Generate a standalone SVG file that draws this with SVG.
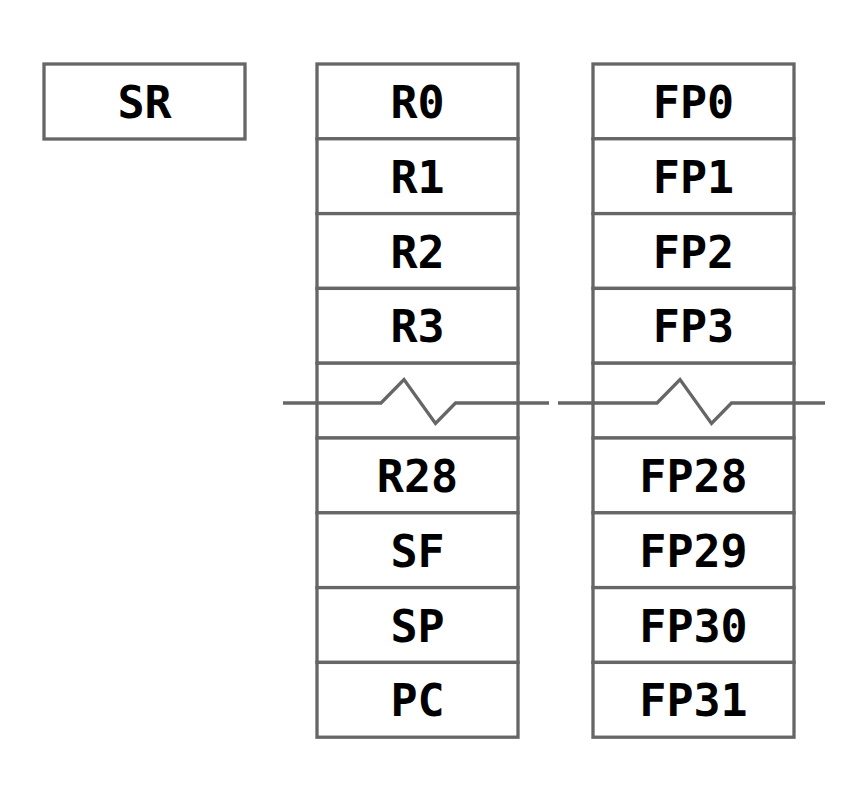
<svg xmlns="http://www.w3.org/2000/svg" width="864" height="792" viewBox="0 0 864 792">
<style>
.c{fill:#fff;stroke:#666;stroke-width:3.3}
.t{font-family:"DejaVu Sans Mono","Liberation Mono",monospace;font-weight:bold;font-size:45px;fill:#000;text-anchor:middle}
.b{fill:none;stroke:#666;stroke-width:3.3}
</style>
<rect width="864" height="792" fill="#fff"/>
<g id="SR"><rect class="c" x="44" y="64" width="201" height="75"/><text class="t" x="144.5" y="118">SR</text></g>
<g id="regs">
<g id="R0"><rect class="c" x="317" y="64" width="201" height="74.8"/><text class="t" x="417.5" y="118">R0</text></g>
<g id="R1"><rect class="c" x="317" y="138.8" width="201" height="74.8"/><text class="t" x="417.5" y="192.8">R1</text></g>
<g id="R2"><rect class="c" x="317" y="213.6" width="201" height="74.8"/><text class="t" x="417.5" y="267.6">R2</text></g>
<g id="R3"><rect class="c" x="317" y="288.4" width="201" height="74.8"/><text class="t" x="417.5" y="342.4">R3</text></g>
<g id="Rgap"><rect class="c" x="317" y="363.2" width="201" height="74.8"/></g>
<g id="R28"><rect class="c" x="317" y="438" width="201" height="74.8"/><text class="t" x="417.5" y="492">R28</text></g>
<g id="SF"><rect class="c" x="317" y="512.8" width="201" height="74.8"/><text class="t" x="417.5" y="566.8">SF</text></g>
<g id="SP"><rect class="c" x="317" y="587.6" width="201" height="74.8"/><text class="t" x="417.5" y="641.6">SP</text></g>
<g id="PC"><rect class="c" x="317" y="662.4" width="201" height="74.8"/><text class="t" x="417.5" y="716.4">PC</text></g>
</g>
<g id="fpregs">
<g id="FP0"><rect class="c" x="593" y="64" width="201" height="74.8"/><text class="t" x="693.5" y="118">FP0</text></g>
<g id="FP1"><rect class="c" x="593" y="138.8" width="201" height="74.8"/><text class="t" x="693.5" y="192.8">FP1</text></g>
<g id="FP2"><rect class="c" x="593" y="213.6" width="201" height="74.8"/><text class="t" x="693.5" y="267.6">FP2</text></g>
<g id="FP3"><rect class="c" x="593" y="288.4" width="201" height="74.8"/><text class="t" x="693.5" y="342.4">FP3</text></g>
<g id="FPgap"><rect class="c" x="593" y="363.2" width="201" height="74.8"/></g>
<g id="FP28"><rect class="c" x="593" y="438" width="201" height="74.8"/><text class="t" x="693.5" y="492">FP28</text></g>
<g id="FP29"><rect class="c" x="593" y="512.8" width="201" height="74.8"/><text class="t" x="693.5" y="566.8">FP29</text></g>
<g id="FP30"><rect class="c" x="593" y="587.6" width="201" height="74.8"/><text class="t" x="693.5" y="641.6">FP30</text></g>
<g id="FP31"><rect class="c" x="593" y="662.4" width="201" height="74.8"/><text class="t" x="693.5" y="716.4">FP31</text></g>
</g>
<g id="breaks">
<polyline class="b" points="283,403 381,403 404,379.5 435.5,423.5 455.5,403 549,403"/>
<polyline class="b" points="558,403 657,403 680,379.5 711.5,423.5 731.5,403 825,403"/>
</g>
</svg>
